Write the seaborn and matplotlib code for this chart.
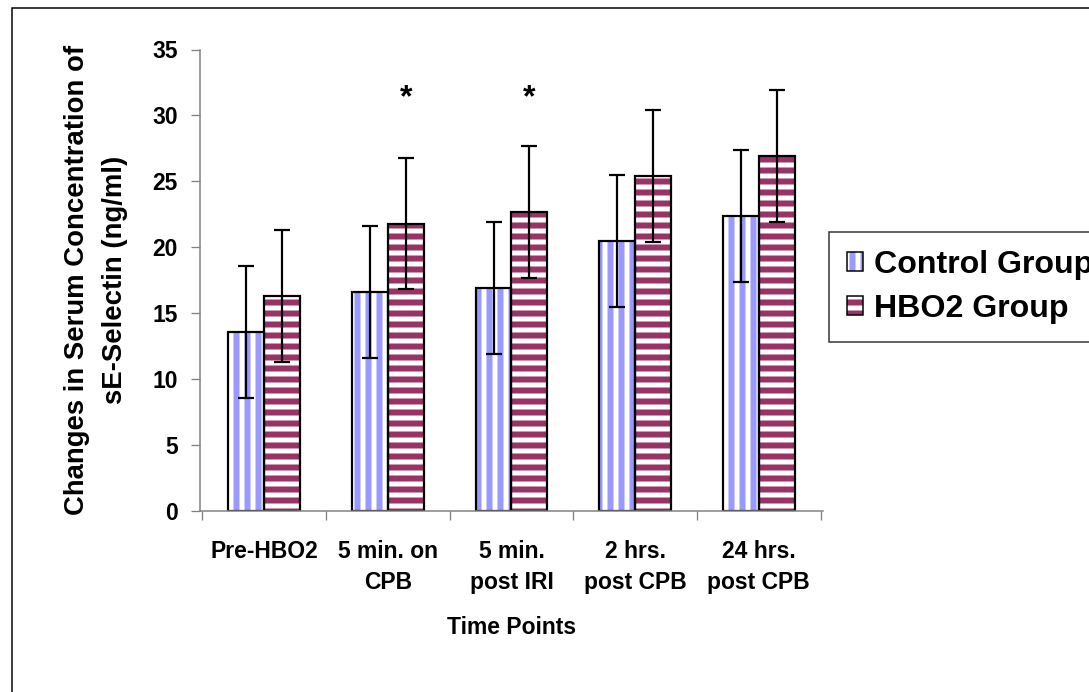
import numpy as np
import pandas as pd
import matplotlib
matplotlib.use("Agg")
import matplotlib.pyplot as plt
from matplotlib.patches import Rectangle, Patch
from matplotlib.legend_handler import HandlerTuple
import seaborn as sns

# ---- data ----
categories = ["Pre-HBO2", "5 min. on\nCPB", "5 min.\npost IRI", "2 hrs.\npost CPB", "24 hrs.\npost CPB"]
groups = ["Control Group", "HBO2 Group"]
control_values = [13.6, 16.6, 16.9, 20.5, 22.4]
hbo2_values = [16.3, 21.8, 22.7, 25.4, 26.9]
control_err = [5.0, 5.0, 5.0, 5.0, 5.0]
hbo2_err = [5.0, 5.0, 5.0, 5.0, 5.0]
significance = ["", "*", "*", "", ""]
y_ticks = [0, 5, 10, 15, 20, 25, 30, 35]

# ---- geometry helpers ----
DPI = 66
W, H = 1089, 692


def px(v):
    return v * 72.0 / DPI


sns.set_style("ticks")
plt.rcParams["font.family"] = ["Liberation Sans", "DejaVu Sans"]
plt.rcParams["font.weight"] = "bold"
plt.rcParams["text.color"] = "black"
plt.rcParams["axes.labelcolor"] = "black"
plt.rcParams["xtick.labelcolor"] = "black"
plt.rcParams["ytick.labelcolor"] = "black"
plt.rcParams["hatch.linewidth"] = px(6)

fig = plt.figure(figsize=(W / DPI, H / DPI), dpi=DPI)
ax = fig.add_axes([200 / W, 1 - 511 / H, 623 / W, 461.5 / H])

df = pd.DataFrame({
    "Time": categories * 2,
    "Group": [groups[0]] * len(categories) + [groups[1]] * len(categories),
    "Value": control_values + hbo2_values,
})
sns.barplot(data=df, x="Time", y="Value", hue="Group", order=categories,
            hue_order=groups, palette=["white", "white"], width=0.58,
            errorbar=None, saturation=1, legend=False, ax=ax)

colors = ["#9999FF", "#993366"]
hatches = ["|", "-"]
errs = [control_err, hbo2_err]
bar_containers = list(ax.containers)
hbo2_centers = []
for ci, cont in enumerate(bar_containers):
    xs, ys = [], []
    for p in cont.patches:
        p.set_facecolor("white")
        p.set_edgecolor(colors[ci])
        if hasattr(p, "set_hatchcolor"):
            p.set_hatchcolor(colors[ci])
        p.set_hatch(hatches[ci])
        p.set_linewidth(0)
        ax.add_patch(Rectangle((p.get_x(), p.get_y()), p.get_width(), p.get_height(),
                               fill=False, edgecolor="black", linewidth=px(2.2),
                               zorder=p.get_zorder() + 0.1))
        xs.append(p.get_x() + p.get_width() / 2)
        ys.append(p.get_height())
    ax.errorbar(xs, ys, yerr=errs[ci], fmt="none", ecolor="black",
                elinewidth=px(2.2), capsize=px(8), capthick=px(2.2), zorder=5)
    if ci == 1:
        hbo2_centers = xs

for x, s in zip(hbo2_centers, significance):
    if s:
        ax.text(x, 31.3, s, ha="center", va="center", fontsize=35, fontweight="bold",
                color="black")

# ---- axes ----
ax.set_ylim(0, 35)
ax.set_yticks(y_ticks)
ax.set_xticks(range(len(categories)))
ax.set_xticklabels(categories)
ax.set_xticks(np.arange(-0.5, len(categories), 1), minor=True)
ax.tick_params(axis="y", direction="out", length=px(9), width=px(1.3), color="#808080",
               labelcolor="black", pad=px(13), labelsize=25, left=True)
ax.tick_params(axis="x", which="major", length=0, pad=px(29), labelsize=25,
               labelcolor="black")
ax.tick_params(axis="x", which="minor", direction="out", length=px(9), width=px(1.3),
               color="#808080", bottom=True)
for lbl in ax.get_xticklabels():
    lbl.set_linespacing(1.45)
    lbl.set_fontweight("bold")
for lbl in ax.get_yticklabels():
    lbl.set_fontweight("bold")

for s in ["top", "right"]:
    ax.spines[s].set_visible(False)
for s in ["left", "bottom"]:
    ax.spines[s].set_color("#808080")
    ax.spines[s].set_linewidth(px(1.5))

ax.set_xlabel("Time Points", fontsize=25, fontweight="bold", color="black")
ax.xaxis.set_label_coords(0.5, -(627.5 - 511) / 461.5)
ax.xaxis.label.set_va("center")
ax.set_ylabel("Changes in Serum Concentration of\nsE-Selectin (ng/ml)", fontsize=30,
              fontweight="bold", linespacing=1.6, color="black")
ax.yaxis.set_label_coords((96 - 200) / 623, 0.5)
ax.yaxis.label.set_va("center")

# ---- legend ----
handles = [(Patch(facecolor="white", edgecolor=colors[i], hatch=hatches[i], linewidth=0),
            Patch(fill=False, edgecolor="black", linewidth=px(1.5)))
           for i in range(len(groups))]
leg = ax.legend(handles, groups, handler_map={tuple: HandlerTuple(ndivide=1, pad=0)},
                loc="upper left", bbox_to_anchor=(829 / W, 1 - 232 / H),
                bbox_transform=fig.transFigure, prop={"size": 35, "weight": "bold"},
                frameon=True, fancybox=False, borderpad=0.55, labelspacing=0.45,
                handlelength=0.52, handleheight=0.52, handletextpad=0.33,
                borderaxespad=0)
leg.get_frame().set_edgecolor("black")
leg.get_frame().set_linewidth(px(1.5))
leg.get_frame().set_facecolor("white")
for t in leg.get_texts():
    t.set_color("black")

# ---- outer chart border ----
fig.add_artist(Rectangle((12 / W, -0.1), 1.2, 1 - 8 / H + 0.1, transform=fig.transFigure,
                         fill=False, edgecolor="black", linewidth=px(1.5)))

fig.savefig("out.png", dpi=DPI)
